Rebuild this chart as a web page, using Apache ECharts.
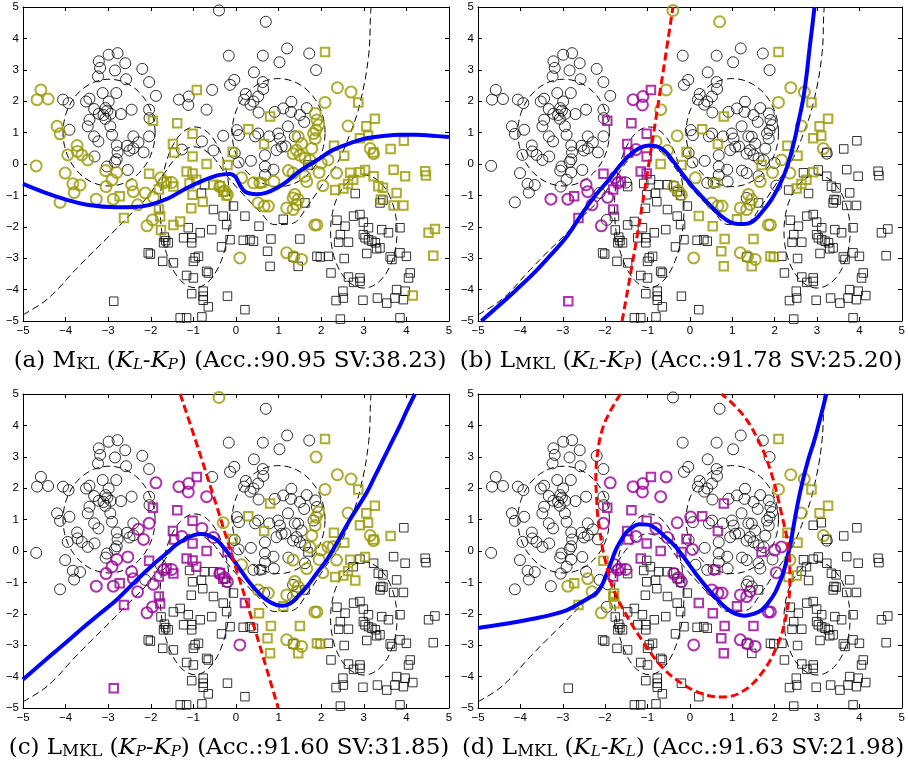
<!DOCTYPE html>
<html>
<head>
<meta charset="utf-8">
<script src="https://cdn.jsdelivr.net/npm/echarts@6/dist/echarts.min.js"></script>
<style>
  html, body { margin: 0; padding: 0; background: #fff; }
  #chart { width: 908px; height: 764px; }
</style>
</head>
<body>
<div id="chart"></div>
<script>
// ---- data: one dataset, shown four times ----
// circles that are plain (black) in panel (a)
const circlesRest = [
  [-4.06,2.05],[-3.93,1.94],[-3.91,1.09],
  [-3.22,3.27],[-2.99,3.48],[-2.78,3.53],[-2.60,3.21],[-3.19,3.06],[-2.84,2.98],[-2.20,3.03],[-3.24,2.79],[-2.58,2.70],[-2.04,2.61],[-1.88,2.17],
  [-3.52,1.99],[-3.44,2.08],[-3.13,2.26],[-2.81,2.26],[-2.99,1.99],[-3.06,1.78],[-3.33,1.75],[-3.22,1.60],[-3.11,1.56],[-3.02,1.70],[-2.94,1.60],[-3.07,1.44],[-2.70,1.59],[-2.45,1.73],[-2.04,1.73],[-2.03,1.46],
  [-3.48,1.20],[-3.44,1.41],[-2.95,1.20],[-3.33,0.88],[-3.23,0.72],[-2.91,0.93],[-2.41,0.88],[-2.56,0.58],[-2.29,0.69],[-2.80,0.59],[-2.78,0.37],[-2.50,0.43],[-2.41,0.50],[-2.17,0.37],[-3.32,0.24],[-2.80,0.15],[-3.03,-0.08],[-2.84,0.06],[-2.54,-0.19],[-2.04,0.88],
  [-1.34,2.05],[-1.11,2.15],[-1.12,1.88],[-0.69,1.73],[-0.56,2.36],[-1.27,0.46],[-0.80,0.72],[-0.53,0.43],[-0.30,0.90],[-0.17,3.45],[-0.14,2.52],[-0.04,2.68],[-0.40,4.89],[0.70,4.53],
  [1.20,3.68],[1.72,3.52],[0.63,3.45],[1.02,3.24],[1.88,2.99],[0.42,2.92],[0.63,2.61],[0.64,2.39],[0.23,2.23],[0.19,2.05],[0.41,1.99],[0.52,2.15],[0.34,1.89],[0.53,1.64],[0.91,1.66],[1.11,1.77],[1.30,1.98],[1.29,1.66],[1.50,1.56],[1.60,1.34],[1.66,1.78],
  [0.99,0.97],[1.03,0.81],[1.07,0.55],[0.95,0.44],[0.52,0.97],[0.45,0.88],[0.02,1.08],[0.07,0.92],[0.35,0.10],[0.68,0.28],[0.78,0.88],[1.16,0.56],[1.38,0.88],[0.06,0.05],[-0.03,0.35],[0.68,-0.08],[0.68,-0.35],[0.88,-0.18],[1.22,1.20]
]
// circles that are support vectors (olive) in panel (a)
const aOliveC = [
  [-4.58,2.36],[-4.67,2.05],[-4.41,2.07],[-4.20,1.20],[-4.13,0.96],[-4.69,-0.06],
  [-3.73,0.59],[-3.72,0.40],[-3.62,0.29],[-3.48,0.13],[-3.95,0.29],
  [-4.01,-0.29],[-3.83,-0.63],[-3.66,-0.67],[-3.80,-0.91],[-4.13,-1.22],[-3.28,-1.12],
  [-3.06,-0.21],[-2.80,-0.27],[-2.91,-0.50],[-3.05,-0.72],[-2.88,-1.12],
  [-2.45,-0.66],[-2.41,-0.88],[-2.31,-1.30],[-2.13,-0.92],[-1.94,-1.06],[-2.09,-1.97],[-1.96,-1.78],
  [-1.77,-0.44],[-1.70,-0.60],[-1.51,-0.59],
  [-0.38,-0.72],[-0.27,-0.85],[-0.20,-0.98],
  [0.13,-0.44],[0.41,-0.60],[0.56,-0.60],[0.89,-0.56],
  [0.52,-1.24],[0.66,-1.34],[0.76,-1.34],[0.09,-2.99],
  [1.19,-2.83],[1.36,-2.95],[1.54,-3.04],
  [1.19,-1.40],[1.34,-1.45],[1.42,-1.29],[1.38,-0.97],[1.34,-1.08],[1.46,-1.13],[1.85,-1.94],[1.90,-1.94],
  [1.23,-0.21],[1.34,-0.29],[1.62,-0.39],[1.66,-0.56],[1.95,-0.27],[2.00,0.03],[2.36,-0.29],[2.04,-0.69],[2.16,0.13],
  [1.86,1.61],[1.90,1.40],[1.94,1.24],[1.88,1.08],[1.82,0.97],[1.86,0.81],[1.78,0.49],[1.74,0.12],
  [1.46,0.87],[1.54,0.65],[1.42,0.44],[1.50,0.28],[1.34,0.33],[1.62,0.18],
  [2.09,1.96],[2.38,2.43],[2.70,2.29],[2.63,1.21],[3.15,0.49],[3.23,0.33]
]
// squares that are plain (black) in panel (a)
const squaresRest = [
  [-0.74,-0.66],[-0.81,-0.93],
  [-0.06,-1.34],[0.21,-1.66],[-0.30,-1.66],[-0.22,-1.93],[0.54,-1.98],[-0.57,-2.09],[-0.84,-2.19],[-1.12,-2.03],[-1.23,-2.35],[-1.04,-2.35],[-1.04,-2.51],[-1.59,-2.51],
  [-0.14,-2.41],[0.17,-2.43],[0.33,-2.41],[0.41,-2.46],[0.82,-2.39],[1.50,-2.39],[-0.34,-2.64],[0.74,-2.78],[-1.47,-3.15],[-0.96,-2.99],[-0.88,-2.94],[-1.00,-3.10],
  [-0.69,-3.42],[-0.65,-3.47],[-1.16,-3.55],[-1.00,-3.63],[0.80,-3.26],[1.34,-2.96],[1.46,-3.26],[-1.04,-4.13],[-0.77,-4.05],[-0.77,-4.21],[-0.77,-4.34],[-0.65,-4.55],
  [-0.20,-4.21],[0.21,-4.64],[-1.31,-4.90],[-1.16,-4.90],[-0.80,-4.87],[-2.06,-2.83],[-2.01,-2.87],[-1.72,-3.10],[-1.70,-2.51],[-1.68,-2.33],[-1.65,-2.44],[-2.87,-4.37],
  [1.11,-1.76],[1.62,-1.24],[-0.53,-1.45],[1.69,-0.03],[1.90,-2.94],[1.98,-2.96],
  [2.80,-0.94],[2.76,-1.66],[2.91,-1.61],[2.37,-1.79],[2.99,-1.85],[2.56,-1.98],[3.11,-2.03],[3.42,-2.09],[3.58,-2.19],[3.85,-2.03],[2.45,-2.25],[2.41,-2.49],[2.64,-2.49],
  [2.99,-2.25],[3.03,-2.35],[3.11,-2.41],[3.19,-2.46],[3.27,-2.51],[3.30,-2.70],[3.38,-2.67],[3.07,-2.85],[3.62,-2.96],[3.66,-3.04],[3.85,-2.83],[4.00,-2.94],
  [2.17,-2.94],[2.54,-3.01],[2.23,-3.47],[2.64,-3.60],[2.91,-3.63],[2.91,-3.74],[2.76,-3.77],[4.09,-3.47],[4.05,-3.63],[2.51,-4.05],[2.52,-4.27],[2.35,-4.35],
  [2.98,-4.34],[3.32,-4.27],[3.54,-4.43],[3.77,-4.00],[3.73,-4.27],[3.97,-4.05],[3.93,-4.32],[3.85,-4.90],[2.45,-4.94],[3.38,-1.24],[3.45,-1.15]
]
// squares that are support vectors (olive) in panel (a)
const aOliveS = [
  [2.09,3.57],[-0.92,2.36],[2.87,1.96],[-1.95,1.38],[-1.38,1.30],[0.80,1.51],[0.29,1.11],[-1.02,0.96],[3.26,1.44],[3.06,1.20],[3.10,0.90],[2.91,0.82],[3.94,0.74],
  [-1.48,0.64],[-1.45,0.37],[0.66,0.64],[-0.08,0.38],[-1.02,0.24],[-0.69,0.00],[-0.20,-0.03],[2.30,0.58],[2.54,0.26],[3.63,0.48],[3.23,0.37],
  [3.70,-0.18],[3.97,-0.39],[4.44,-0.23],[4.46,-0.37],[2.91,-0.26],[3.03,-0.19],[2.68,-0.28],[3.23,-0.39],[2.75,-0.50],[2.63,-0.64],[2.52,-0.78],[2.33,-0.83],
  [3.34,-0.71],[3.45,-0.76],[3.77,-0.92],[3.40,-1.13],[3.70,-1.32],[3.93,-1.32],[4.52,-2.19],[4.67,-2.07],[4.63,-2.92],[4.15,-4.19],
  [-2.04,-0.31],[-1.63,-0.56],[-1.47,-0.72],[-1.81,-0.81],[-1.81,-1.45],[-1.78,-1.67],[-1.76,-2.10],[-2.63,-1.72],[-2.73,-1.03],
  [-1.16,-0.24],[-1.02,-0.30],[-0.93,-0.50],[-1.09,-0.62],[-1.02,-0.98],[-0.78,-1.20],[-1.05,-1.41],[-1.47,-1.94],[-1.31,-1.83],
  [-0.38,-0.70],[-0.30,-0.88],[-0.22,-1.00],[-0.53,-0.66],[0.60,-0.60]
]

// support vectors of panels (b)-(d)
const bPurpleC = [[-1.38,2.05],[-1.13,2.21],[-1.13,1.89],[-1.30,0.50],[-2.46,-0.64],[-2.42,-0.90],[-2.30,-1.36],[-3.30,-1.14],[-2.91,-1.12],[-2.09,-2.00],[-1.92,-1.04],[-1.75,-0.50],[-1.67,-0.59]]
const bPurpleS = [[-1.95,1.39],[-1.38,1.30],[-0.93,2.36],[-1.01,0.96],[-1.49,0.64],[-1.44,0.37],[-1.01,0.24],[-1.17,-0.21],[-1.05,-0.29],[-2.04,-0.31],[-1.52,-0.56],[-1.75,-0.80],[-2.73,-1.04],[-2.63,-1.73],[-1.96,-1.27],[-2.89,-4.38]]
const bOliveC = [[-0.41,4.92],[0.71,4.53],[-0.56,2.36],[-0.70,1.71],[-0.81,0.72],[-0.31,0.91],[-0.52,0.40],[0.13,-0.50],[-0.39,-0.70],[-0.27,-0.82],[-0.19,-0.93],[2.08,1.96],[2.39,2.42],[2.69,2.28],[2.63,1.20],[3.18,0.45],[2.08,0.19],[1.92,-0.24],[1.65,-0.56],[2.32,-0.29],[1.38,-0.93],[1.42,-1.09],[1.53,-1.20],[0.52,-1.25],[0.64,-1.36],[0.75,-1.38],[1.14,-1.44],[1.38,-1.44],[1.81,-1.94],[1.89,-1.94],[0.07,-2.98],[1.18,-2.90],[1.34,-3.00],[1.57,-3.06]]
const bOliveS = [[2.07,3.57],[2.86,1.96],[0.81,1.49],[0.28,1.11],[3.24,1.44],[3.06,1.20],[3.10,0.90],[2.91,0.82],[0.66,0.64],[-0.09,0.37],[-0.69,0.00],[-0.20,-0.03],[2.30,0.58],[2.54,0.26],[1.69,-0.03],[2.91,-0.26],[2.75,-0.50],[2.63,-0.64],[2.44,-0.82],[0.60,-0.59],[0.20,-1.70],[0.52,-1.99],[0.81,-2.39],[1.47,-2.39],[0.74,-2.79],[0.80,-3.27],[1.46,-3.27],[1.89,-2.95],[1.96,-2.95],[1.11,-1.76]]

const cPurpleC = [[-1.88,2.16],[-1.35,2.03],[-1.10,2.21],[-1.12,1.86],[-0.69,1.70],[-2.04,0.88],[-2.27,0.62],[-2.15,0.37],[-0.78,0.78],[-0.53,0.44],[-1.31,0.51],[-2.80,-0.29],[-2.52,-0.18],[-3.03,-0.71],[-2.88,-0.55],[-3.28,-1.14],[-2.88,-1.12],[-2.45,-0.66],[-2.41,-0.93],[-2.33,-1.35],[-2.09,-1.99],[-1.98,-1.78],[-1.90,-0.93],[-1.70,-0.66],[-1.55,-0.50],[-0.34,-0.77],[-0.22,-0.93],[-0.30,-1.03],[0.07,-3.00]]
const cPurpleS = [[-0.91,2.35],[-1.96,1.38],[-1.37,1.31],[-1.02,0.97],[-1.48,0.67],[-1.45,0.37],[-1.02,0.22],[-0.69,-0.02],[-2.02,-0.34],[-1.16,-0.29],[-1.04,-0.34],[-0.92,-0.45],[-1.70,-0.50],[-1.55,-0.60],[-1.74,-0.82],[-2.72,-1.01],[-2.63,-1.73],[-1.78,-1.30],[-1.80,-1.55],[-0.18,-0.05],[0.21,-1.69],[-2.88,-4.40],[-0.38,-0.68],[-0.26,-0.85]]
const cOliveC = [[-0.40,4.89],[1.88,2.98],[2.38,2.43],[2.70,2.29],[2.09,1.97],[2.63,1.20],[-0.28,0.90],[0.13,-0.50],[1.89,1.20],[1.93,0.99],[1.85,0.78],[1.77,0.51],[1.73,0.24],[1.97,0.19],[2.09,-0.07],[2.28,0.14],[1.42,-0.29],[1.66,-0.50],[1.93,-0.29],[2.05,-0.71],[2.36,-0.29],[0.56,-1.24],[0.72,-1.40],[1.19,-1.40],[1.38,-0.98],[1.42,-1.19],[1.58,-1.27],[1.85,-1.94],[1.89,-1.94],[1.19,-2.91],[1.34,-3.00],[1.58,-3.05],[3.14,0.51],[3.22,0.40]]
const cOliveS = [[2.09,3.56],[2.87,1.95],[3.26,1.44],[3.06,1.20],[3.10,0.88],[2.91,0.81],[0.80,1.49],[0.29,1.10],[0.68,0.62],[-0.06,0.35],[2.30,0.54],[2.54,0.24],[3.63,0.48],[3.20,0.35],[2.71,-0.29],[2.98,-0.18],[2.59,-0.50],[2.36,-0.82],[2.52,-0.82],[2.77,-0.93],[0.52,-1.99],[0.84,-2.39],[1.50,-2.41],[0.74,-2.79],[0.80,-3.30],[1.46,-3.30],[1.89,-2.98],[1.95,-2.98],[1.17,-1.81]]

const dPurpleC = [[-1.89,2.18],[-1.38,2.03],[-1.13,2.19],[-1.13,1.86],[-0.56,2.34],[-0.70,1.68],[-2.05,0.88],[-1.31,0.46],[-0.81,0.74],[-0.29,0.90],[0.02,1.07],[-0.54,0.40],[0.07,0.03],[-1.83,-0.45],[-1.71,-0.53],[-1.60,-0.50],[-0.41,-0.82],[-0.23,-0.82],[-0.27,-0.98],[0.52,-1.24],[0.63,-1.40],[0.75,-1.40],[1.17,-1.44],[1.38,-1.51],[1.61,-1.30],[1.85,-1.94],[1.89,-1.94],[0.07,-3.00],[1.18,-2.89],[1.34,-2.98],[1.57,-3.05],[2.04,-0.69],[2.08,0.19],[2.16,0.14]]
const dPurpleS = [[-1.95,1.38],[-1.38,1.31],[-0.93,2.34],[-1.01,0.96],[-1.49,0.65],[-1.44,0.37],[-1.01,0.22],[-1.17,-0.27],[-1.74,-0.82],[-1.75,-0.59],[-0.68,-0.03],[-0.09,0.37],[-0.25,-0.05],[0.28,1.10],[0.79,1.49],[0.66,0.62],[1.69,-0.07],[0.60,-0.61],[0.20,-1.69],[0.53,-1.99],[0.81,-2.39],[1.47,-2.39],[0.74,-2.79],[0.79,-3.30],[1.18,-1.78]]
const dOliveC = [[-2.93,-1.12],[-2.42,-0.90],[-2.32,-1.35],[-2.09,-1.99],[2.08,1.97],[2.39,2.39],[2.69,2.29],[2.63,1.20],[3.18,0.51],[2.36,-0.34]]
const dOliveS = [[2.07,3.57],[2.86,1.95],[3.24,1.44],[3.06,1.20],[2.30,0.54],[2.54,0.24],[-2.73,-1.03],[-2.63,-1.76],[-1.99,-1.30],[-1.79,-1.35],[-2.00,-1.78],[-2.04,-0.34],[2.32,-0.87],[2.54,-0.77]]

// Bayes boundary (same in all panels)
const bayes = [[-5,-4.8],[-4.55,-4.43],[-4.23,-4.05],[-3.84,-3.47],[-3.38,-2.83],[-2.98,-2.3],[-2.52,-1.66],[-2.13,-1.13],[-1.73,-0.39],[-1.4,0.2],[-1.0,0.55],[-0.6,0.3],[-0.2,-0.4],[0.17,-0.97],[0.55,-1.5],[0.91,-1.93],[1.3,-1.9],[1.7,-1.3],[2.1,-0.5],[2.37,0.01],[2.68,0.97],[2.91,1.93],[3.11,3.42],[3.16,4.8],[3.17,5]]
// class contours: centre x, centre y, half width, half height
const contours = [[-2.98,1.0,1.08,1.7],[1.0,1.0,1.09,1.72],[-0.96,-1.38,0.82,2.56],[3.0,-2.15,0.78,1.8]]

// learned boundaries (blue) and gating boundaries (red)
const blueA = [[-5,-0.63],[-4.5,-0.9],[-3.97,-1.14],[-3.5,-1.3],[-2.8,-1.38],[-2.4,-1.37],[-2.02,-1.3],[-1.6,-1.1],[-1.23,-0.82],[-0.9,-0.6],[-0.53,-0.4],[-0.3,-0.33],[-0.14,-0.32],[-0.02,-0.4],[0.05,-0.56],[0.13,-0.75],[0.21,-0.88],[0.33,-0.94],[0.48,-0.96],[0.7,-0.92],[0.95,-0.77],[1.2,-0.55],[1.5,-0.22],[1.9,0.12],[2.28,0.45],[2.7,0.67],[3.06,0.82],[3.5,0.9],[3.84,0.93],[4.23,0.93],[4.6,0.9],[5,0.86]]
const blueB = [[-4.92,-5],[-4.5,-4.5],[-4.1,-4.01],[-3.7,-3.5],[-3.32,-2.95],[-2.9,-2.3],[-2.54,-1.57],[-2.2,-0.95],[-1.91,-0.5],[-1.65,-0.05],[-1.44,0.26],[-1.2,0.5],[-0.97,0.59],[-0.78,0.56],[-0.58,0.4],[-0.4,0.1],[-0.19,-0.29],[0.05,-0.7],[0.28,-1.04],[0.5,-1.35],[0.75,-1.67],[0.95,-1.85],[1.14,-1.91],[1.35,-1.9],[1.53,-1.78],[1.72,-1.5],[1.92,-1.14],[2.1,-0.7],[2.24,-0.29],[2.36,0.2],[2.47,0.77],[2.57,1.4],[2.67,2.05],[2.75,2.8],[2.82,3.64],[2.88,4.3],[2.94,5]]
const blueC = [[-5,-4.09],[-4.5,-3.5],[-3.97,-2.89],[-3.6,-2.45],[-3.19,-1.99],[-2.8,-1.55],[-2.41,-1.03],[-2.0,-0.5],[-1.63,-0.07],[-1.4,0.2],[-1.16,0.4],[-1.0,0.5],[-0.84,0.54],[-0.65,0.5],[-0.45,0.35],[-0.25,0.05],[-0.06,-0.29],[0.13,-0.65],[0.33,-1.03],[0.52,-1.32],[0.72,-1.56],[0.95,-1.72],[1.1,-1.74],[1.27,-1.67],[1.45,-1.45],[1.66,-1.14],[1.9,-0.7],[2.13,-0.29],[2.4,0.33],[2.67,0.99],[2.87,1.42],[3.06,1.84],[3.25,2.35],[3.45,2.9],[3.65,3.45],[3.84,3.97],[4.02,4.5],[4.2,5]]
const blueD = [[-5,-2.45],[-4.5,-2.35],[-4.1,-2.26],[-3.7,-2.16],[-3.32,-2.05],[-2.9,-1.88],[-2.54,-1.62],[-2.35,-1.47],[-2.22,-1.36],[-2.1,-1.15],[-1.99,-0.82],[-1.87,-0.4],[-1.75,0.03],[-1.62,0.35],[-1.52,0.56],[-1.37,0.74],[-1.2,0.85],[-1.0,0.84],[-0.81,0.72],[-0.58,0.45],[-0.34,0.14],[-0.1,-0.28],[0.13,-0.71],[0.36,-1.1],[0.59,-1.46],[0.8,-1.75],[0.99,-1.94],[1.15,-2.03],[1.3,-2.06],[1.5,-2.0],[1.69,-1.88],[1.85,-1.65],[2.0,-1.35],[2.1,-1.05],[2.2,-0.71],[2.3,-0.2],[2.39,0.35],[2.5,1.2],[2.63,2.05],[2.78,2.85],[2.94,3.54],[3.08,4.25],[3.22,5]]
const redB = [[-1.6,-5],[-1.13,-1.36],[-0.4,5]]
const redC = [[-1.31,5],[-0.7,2.48],[-0.06,-0.29],[0.4,-2.3],[0.99,-5]]
const redD = [[-1.64,5],[-1.9,4.4],[-2.07,3.86],[-2.18,3.1],[-2.22,2.27],[-2.2,1.7],[-2.18,1.2],[-2.12,0.6],[-2.07,0.14],[-1.96,-0.5],[-1.83,-1.14],[-1.52,-1.99],[-1.13,-2.84],[-0.66,-3.69],[-0.19,-4.22],[0.28,-4.54],[0.75,-4.65],[1.22,-4.49],[1.69,-3.9],[2.08,-2.95],[2.28,-1.99],[2.36,-0.93],[2.32,0.14],[2.16,1.2],[1.92,2.48],[1.61,3.54],[1.22,4.39],[0.75,5]]

// captions
const tags = ['a', 'b', 'c', 'd']
const methods = [['M', 'KL'], ['L', 'MKL'], ['L', 'MKL'], ['L', 'MKL']]
const kernels = [['L', 'P'], ['L', 'P'], ['P', 'P'], ['L', 'L']]
const accs = ['90.95', '91.78', '91.60', '91.63']
const svs = ['38.23', '25.20', '31.85', '21.98']

const circles = circlesRest.concat(aOliveC)
const squares = squaresRest.concat(aOliveS)

const OLIVE = '#999900'
const PURPLE = '#990099'

const panels = [
  { left: 23, top: 7, cap: 230, blue: blueA, red: null, oc: aOliveC, os: aOliveS, pc: [], ps: [] },
  { left: 478, top: 7, cap: 681, blue: blueB, red: redB, oc: bOliveC, os: bOliveS, pc: bPurpleC, ps: bPurpleS },
  { left: 23, top: 394, cap: 229, blue: blueC, red: redC, oc: cOliveC, os: cOliveS, pc: cPurpleC, ps: cPurpleS },
  { left: 478, top: 394, cap: 683, blue: blueD, red: redD, oc: dOliveC, os: dOliveS, pc: dPurpleC, ps: dPurpleS }
]

// match each highlighted point to its point in the shared dataset
function splitPoints (p) {
  const used = { c: circles.map(() => ''), s: squares.map(() => '') }
  const out = { c: { k: [], o: [], p: [] }, s: { k: [], o: [], p: [] } }
  const lists = [['c', 'o', p.oc], ['s', 'o', p.os], ['c', 'p', p.pc], ['s', 'p', p.ps]]
  lists.forEach(([shape, key, pts]) => {
    const base = shape === 'c' ? circles : squares
    pts.forEach(q => {
      let best = -1
      let bd = 0.25
      base.forEach((b, j) => {
        if (used[shape][j]) return
        const d = Math.hypot(b[0] - q[0], b[1] - q[1])
        if (d < bd) { bd = d; best = j }
      })
      if (best >= 0) {
        used[shape][best] = key
        out[shape][key].push(base[best])
      } else {
        out[shape][key].push(q)
      }
    })
  })
  circles.forEach((b, j) => { if (!used.c[j]) out.c.k.push(b) })
  squares.forEach((b, j) => { if (!used.s[j]) out.s.k.push(b) })
  return out
}

function ellipsePts (e) {
  const pts = []
  for (let k = 0; k <= 144; k++) {
    const t = k / 144 * 2 * Math.PI
    pts.push([e[0] + e[2] * Math.cos(t), e[1] + e[3] * Math.sin(t)])
  }
  return pts
}

const fmt = v => (v < 0 ? '\u2212' + (-v) : String(v))
const grids = []
const xAxes = []
const yAxes = []
const series = []

panels.forEach((p, i) => {
  grids.push({ left: p.left, top: p.top, width: 426, height: 314, show: false })
  const base = {
    type: 'value', min: -5, max: 5, interval: 1, gridIndex: i,
    axisLine: { show: true, onZero: false, lineStyle: { color: '#000', width: 1 } },
    axisTick: { show: true, inside: true, length: 4, lineStyle: { color: '#000', width: 1 } },
    splitLine: { show: false }
  }
  const lab = { show: true, color: '#000', fontSize: 11.5, fontFamily: 'Liberation Sans', margin: 4, formatter: fmt }
  xAxes.push(Object.assign({}, base, { position: 'bottom', axisLabel: lab }))
  xAxes.push(Object.assign({}, base, { position: 'top', axisLabel: { show: false } }))
  yAxes.push(Object.assign({}, base, { position: 'left', axisLabel: lab }))
  yAxes.push(Object.assign({}, base, { position: 'right', axisLabel: { show: false } }))

  const ax = { xAxisIndex: i * 2, yAxisIndex: i * 2 }
  const dash = { color: '#000', width: 1, type: [7, 4] }
  contours.forEach(e => {
    series.push(Object.assign({ type: 'line', data: ellipsePts(e), showSymbol: false, silent: true, z: 2, lineStyle: dash }, ax))
  })
  series.push(Object.assign({ type: 'line', data: bayes, smooth: 0.4, showSymbol: false, silent: true, z: 2, lineStyle: dash }, ax))

  const pts = splitPoints(p)
  const mk = (data, symbol, size, color, width) => Object.assign({
    type: 'scatter', data, symbol, symbolSize: size, silent: true, z: 3,
    itemStyle: { color: 'rgba(0,0,0,0)', borderColor: color, borderWidth: width }
  }, ax)
  series.push(mk(pts.c.k, 'circle', 11, '#000', 1))
  series.push(mk(pts.s.k, 'rect', 8.5, '#000', 1))
  series.push(mk(pts.c.o, 'circle', 11, OLIVE, 2))
  series.push(mk(pts.s.o, 'rect', 8.5, OLIVE, 2))
  series.push(mk(pts.c.p, 'circle', 11, PURPLE, 2))
  series.push(mk(pts.s.p, 'rect', 8.5, PURPLE, 2))

  series.push(Object.assign({ type: 'line', data: p.blue, smooth: 0.4, showSymbol: false, silent: true, z: 5,
    lineStyle: { color: '#0000ff', width: 4 } }, ax))
  if (p.red) {
    series.push(Object.assign({ type: 'line', data: p.red, smooth: 0.4, showSymbol: false, silent: true, z: 6,
      lineStyle: { color: '#ff0000', width: 3, type: [8, 4] } }, ax))
  }
})

const serif = 'DejaVu Serif'
const rich = {
  n: { fontFamily: serif, fontSize: 23, lineHeight: 30, verticalAlign: 'bottom', color: '#000' },
  sc: { fontFamily: serif, fontSize: 16.5, lineHeight: 25, verticalAlign: 'bottom', color: '#000' },
  it: { fontFamily: serif, fontSize: 23, fontStyle: 'italic', lineHeight: 30, verticalAlign: 'bottom', color: '#000' },
  sub: { fontFamily: serif, fontSize: 15, fontStyle: 'italic', lineHeight: 15, verticalAlign: 'bottom', color: '#000' }
}
const graphics = panels.map((p, i) => ({
  type: 'text',
  x: p.cap,
  y: p.top + 351,
  style: {
    text: '{n|(' + tags[i] + ') ' + methods[i][0] + '}{sc|' + methods[i][1] + '}{n| (}{it|K}{sub|' + kernels[i][0] +
      '}{n|-}{it|K}{sub|' + kernels[i][1] + '}{n|) (Acc.:' + accs[i] + ' SV:' + svs[i] + ')}',
    rich,
    align: 'center',
    verticalAlign: 'middle'
  }
}))

const chart = echarts.init(document.getElementById('chart'))
chart.setOption({
  animation: false,
  backgroundColor: '#fff',
  grid: grids,
  xAxis: xAxes,
  yAxis: yAxes,
  series,
  graphic: graphics
})
</script>
</body>
</html>
